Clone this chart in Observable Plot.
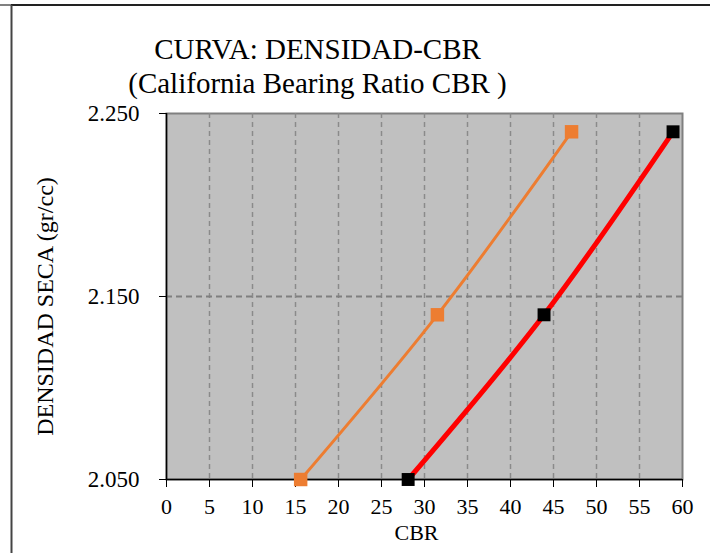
<!DOCTYPE html>
<html>
<head>
<meta charset="utf-8">
<script src="https://cdn.jsdelivr.net/npm/d3@7"></script>
<script src="https://cdn.jsdelivr.net/npm/@observablehq/plot@0.6"></script>
<style>
  html, body { margin: 0; padding: 0; background: #fff; }
  #chart { width: 710px; height: 553px; }
  #chart svg text { font-family: "Liberation Serif", "Times New Roman", serif; }
</style>
</head>
<body>
<div id="chart"></div>
<script>
// Data
const cbrOrange = [15.6, 31.5, 47.1];
const densOrange = [2.050, 2.140, 2.240];
const cbrBlack = [28.1, 43.9, 58.9];
const densBlack = [2.050, 2.140, 2.240];
const xTicks = [0, 5, 10, 15, 20, 25, 30, 35, 40, 45, 50, 55, 60];
const yTicks = [2.050, 2.150, 2.250];
const titleLines = ["CURVA: DENSIDAD-CBR", "(California Bearing Ratio CBR )"];
const xLabel = "CBR";
const yLabel = "DENSIDAD SECA (gr/cc)";

const orange = cbrOrange.map((x, i) => ({x, y: densOrange[i]}));
const black = cbrBlack.map((x, i) => ({x, y: densBlack[i]}));

const font = "Liberation Serif";

const chart = Plot.plot({
  width: 710,
  height: 553,
  marginLeft: 166,
  marginRight: 28,
  marginTop: 113,
  marginBottom: 74,
  style: {fontFamily: font, fontSize: "22px", color: "#000", background: "#fff"},
  x: {domain: [0, 60], ticks: xTicks, label: null},
  y: {domain: [2.05, 2.25], ticks: yTicks, label: null},
  marks: [
    Plot.frame({fill: "#c0c0c0", stroke: "#808080", strokeWidth: 2}),
    Plot.gridX(xTicks.slice(1, -1), {stroke: "#8a8a8a", strokeOpacity: 1, strokeWidth: 1.5, strokeDasharray: "5,4"}),
    Plot.gridY([2.150], {stroke: "#7f7f7f", strokeOpacity: 1, strokeWidth: 2, strokeDasharray: "6,4"}),
    Plot.axisX({ticks: xTicks, tickSize: 8, tickPadding: 11, fontSize: 22, fontFamily: font, stroke: "#000", label: null}),
    Plot.axisY({ticks: yTicks, tickSize: 7, tickPadding: 20, fontSize: 23, fontFamily: font, tickFormat: d3.format(".3f"), stroke: "#000", label: null}),
    Plot.ruleX([0], {stroke: "#000", strokeWidth: 1.5}),
    Plot.ruleY([2.05], {stroke: "#000", strokeWidth: 1.5}),
    Plot.line(orange, {x: "x", y: "y", stroke: "#ED7D31", strokeWidth: 3, curve: "catmull-rom"}),
    Plot.line(black, {x: "x", y: "y", stroke: "#FF0000", strokeWidth: 5, curve: "catmull-rom"}),
    Plot.dot(orange, {x: "x", y: "y", symbol: "square", r: 7.6, fill: "#ED7D31", stroke: "none"}),
    Plot.dot(black, {x: "x", y: "y", symbol: "square", r: 7.3, fill: "#000", stroke: "none"}),
    Plot.text([titleLines[0]], {text: d => d, frameAnchor: "top", dx: -107, dy: -64, fontSize: 29, fontFamily: font, lineAnchor: "middle", fill: "#000"}),
    Plot.text([titleLines[1]], {text: d => d, frameAnchor: "top", dx: -107, dy: -30, fontSize: 29, fontFamily: font, lineAnchor: "middle", fill: "#000"}),
    Plot.text([xLabel], {text: d => d, frameAnchor: "bottom", dx: -8, dy: 53, fontSize: 22, fontFamily: font, lineAnchor: "middle", fill: "#000"}),
    Plot.text([yLabel], {text: d => d, frameAnchor: "left", textAnchor: "middle", dx: -121, dy: 10, rotate: -90, fontSize: 24, fontFamily: font, lineAnchor: "middle", fill: "#000"})
  ]
});

document.getElementById("chart").appendChild(chart);

// outer chart-area border
const svg = d3.select(chart);
svg.append("line").attr("x1", 0).attr("x2", 11).attr("y1", 5).attr("y2", 5).attr("stroke", "#808080").attr("stroke-width", 2);
svg.append("line").attr("x1", 11).attr("x2", 710).attr("y1", 5).attr("y2", 5).attr("stroke", "#222").attr("stroke-width", 2);
svg.append("line").attr("x1", 11.5).attr("x2", 11.5).attr("y1", 5).attr("y2", 553).attr("stroke", "#444").attr("stroke-width", 2);
</script>
</body>
</html>
